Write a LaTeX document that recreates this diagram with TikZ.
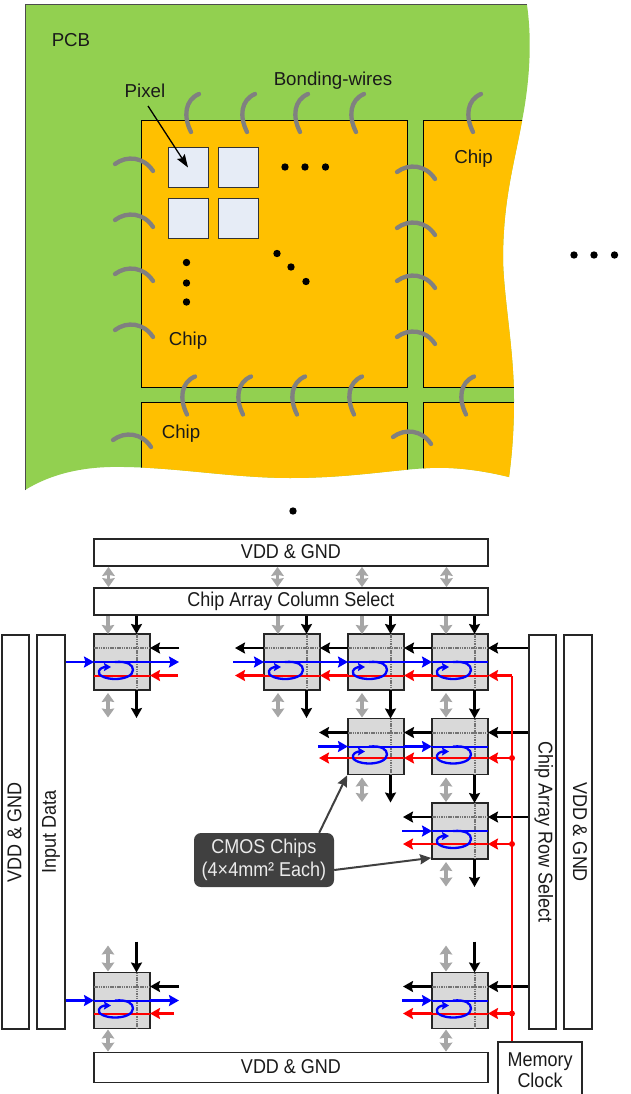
\documentclass[tikz,border=0pt]{standalone}
\usepackage{fontspec}
\setmainfont{Liberation Sans}
\newfontfamily\condfont[FakeStretch=0.9]{Liberation Sans}
\usetikzlibrary{arrows.meta}
\definecolor{pcbgreen}{HTML}{92D050}
\definecolor{chiporange}{HTML}{FFC000}
\definecolor{pixelblue}{HTML}{E6ECF6}
\definecolor{wiregrey}{HTML}{808080}
\definecolor{cellgrey}{HTML}{D9D9D9}
\definecolor{dblgrey}{HTML}{A6A6A6}
\definecolor{calloutdark}{HTML}{404040}
\definecolor{txt}{HTML}{1A1A1A}
\tikzset{
  lbl/.style={font=\fontsize{18.7}{22}\selectfont,text=txt,inner sep=0pt},
  pixelbox/.style={draw=black!80,line width=1pt,fill=pixelblue,minimum size=40pt,inner sep=0pt},
  wire/.style={draw=wiregrey,line width=4.3pt,line cap=round},
  dotmark/.style={circle,fill=black,minimum size=7.4pt,inner sep=0pt},
  bar/.style={draw=black!85,line width=1.8pt,fill=white,inner sep=0pt,font=\condfont\fontsize{20}{22}\selectfont,text=txt,align=center},
  cell/.style={draw=black!85,line width=1.8pt,fill=cellgrey,minimum size=56pt,inner sep=0pt},
  blk/.style={draw=black,line width=2.2pt,-{Stealth[length=10pt,width=11pt,inset=1.5pt]}},
  blu/.style={draw=blue,line width=2.2pt,-{Stealth[length=10pt,width=11pt,inset=1.5pt]}},
  rd/.style={draw=red,line width=2.2pt,-{Stealth[length=10pt,width=11pt,inset=1.5pt]}},
  dbl/.style={draw=dblgrey,line width=3.5pt,{Stealth[length=9pt,width=12.5pt,inset=1pt]}-{Stealth[length=9pt,width=12.5pt,inset=1pt]}},
  sgl/.style={draw=dblgrey,line width=3.5pt,-{Stealth[length=9pt,width=12.5pt,inset=1pt]}},
  inner/.style={draw=black!55,line width=2pt,dash pattern=on 1.5pt off 0.8pt},
  innerb/.style={draw=blue,line width=2pt},
  innerr/.style={draw=red,line width=2pt},
  junction/.style={circle,fill=red,minimum size=6pt,inner sep=0pt},
  callarrow/.style={draw=calloutdark,line width=2pt,-{Stealth[length=11pt,width=10pt,inset=1pt]}}
}
% name, x, y, red offset
\newcommand{\cellunit}[4]{%
  \node[cell] (#1) at (#2+28,#3+28) {};
  \coordinate (#1-kl) at (#2,#3+14);
  \coordinate (#1-kr) at (#2+56,#3+14);
  \coordinate (#1-bl) at (#2,#3+28);
  \coordinate (#1-br) at (#2+56,#3+28);
  \coordinate (#1-rl) at (#2,#3+#4);
  \coordinate (#1-rr) at (#2+56,#3+#4);
  \coordinate (#1-vt) at (#2+42.5,#3);
  \coordinate (#1-vb) at (#2+42.5,#3+56);
  \coordinate (#1-gt) at (#2+14,#3);
  \coordinate (#1-gb) at (#2+14,#3+56);
  \draw[inner] (#1-kl) -- (#1-kr);
  \draw[inner] (#1-vt) -- (#1-vb);
  \draw[innerb] (#1-bl) -- (#1-br);
  \draw[innerr] (#1-rl) -- (#1-rr);
  \draw[draw=blue,line width=2.3pt,-{Stealth[length=7pt,width=8pt,inset=1pt]}]
    (#2+21,#3+28) .. controls (#2+34,#3+27) and (#2+39,#3+31) .. (#2+39,#3+36)
    .. controls (#2+39,#3+42) and (#2+30,#3+45) .. (#2+21,#3+45)
    .. controls (#2+11,#3+45) and (#2+3,#3+41) .. (#2+5,#3+37)
    .. controls (#2+6,#3+34) and (#2+10,#3+33) .. (#2+17,#3+33);
}
\newcommand{\wireV}[2]{\draw[wire] (#1,#2) .. controls (#1-14,#2+6) and (#1-16,#2+22) .. (#1-8,#2+38);}
\newcommand{\wireH}[2]{\draw[wire] (#1,#2) .. controls (#1+12,#2-9) and (#1+29,#2-7) .. (#1+38,#2+7);}
\begin{document}
\begin{tikzpicture}[x=1pt,y=-1pt]
\useasboundingbox (0,0) rectangle (630,1094);
\clip (0,0) rectangle (630,1094);
% PCB
\def\pcbpath{(25,5) -- (527,5) .. controls (532,40) and (530,80) .. (522,121)
  .. controls (514,165) and (503,200) .. (503,260)
  .. controls (504,300) and (514,350) .. (514,400)
  .. controls (514,430) and (512,455) .. (509,477)
  .. controls (480,470) and (455,467) .. (430,468)
  .. controls (390,470) and (350,478) .. (290,478)
  .. controls (230,478) and (170,466) .. (110,467)
  .. controls (75,468) and (48,476) .. (25,490) -- cycle}
\fill[pcbgreen] \pcbpath;
\draw[black!70,line width=1pt] (25,490) -- (25,5) -- (527,5);
\begin{scope}
  \clip \pcbpath;
  \draw[black,line width=1pt,fill=chiporange] (141.5,121) rectangle (407,387);
  \draw[black,line width=1pt,fill=chiporange] (423.5,121) rectangle (560,387);
  \draw[black,line width=1pt,fill=chiporange] (141.5,402.5) rectangle (407,500);
  \draw[black,line width=1pt,fill=chiporange] (423.5,402.5) rectangle (560,500);
\end{scope}
\node[pixelbox] (p1) at (188,167.5) {};
\node[pixelbox] (p2) at (238,167.5) {};
\node[pixelbox] (p3) at (188,218) {};
\node[pixelbox] (p4) at (238,218) {};
\foreach \a in {199,255,308,364,481} {\wireV{\a}{94}}
\foreach \a in {195,251,305,362,474} {\wireV{\a}{376.5}}
\foreach \b in {164,220,274,330} {\wireH{115}{\b}}
\wireH{113}{440}
\foreach \b in {172,228,281,337} {\wireH{397}{\b}}
\wireH{393}{437}
\node[lbl] (pcb) at (71,40) {PCB};
\node[lbl] (pixellbl) at (145,91) {Pixel};
\node[lbl] (bondlbl) at (333,80.5) {Bonding-wires};
\node[lbl] (chipa) at (473.5,159) {Chip};
\node[lbl] (chipb) at (188,341) {Chip};
\node[lbl] (chipc) at (181,434) {Chip};
\coordinate (pixstart) at (148,106);
\draw[draw=black,line width=1.3pt,-{Stealth[length=13pt,width=9pt,inset=2pt]}] (pixstart) -- (p1.center);
\foreach \n/\x/\y in {d1/285/167,d2/305/167,d3/325.5/167,d4/186.5/262.5,d5/186.5/283,d6/186.5/302,d7/277/253.5,d8/291/267,d9/306/281.5,d10/574/255,d11/594/255,d12/614.5/255,d13/293/511}
  \node[dotmark] (\n) at (\x,\y) {};
% Bars
\node[bar,minimum width=394pt,minimum height=27pt] (vddtop) at (291,552.5) {\raisebox{1.5pt}{VDD \& GND}};
\node[bar,minimum width=394pt,minimum height=27pt] (colsel) at (291,601.5) {\raisebox{1pt}{Chip Array Column Select}};
\node[bar,minimum width=394pt,minimum height=30pt] (vddbot) at (291,1067.5) {\raisebox{1pt}{VDD \& GND}};
\node[bar,minimum width=27pt,minimum height=394pt] (vddleft) at (15.5,832) {\hspace*{-1.5pt}\rotatebox{90}{VDD \& GND}\hspace*{0.5pt}};
\node[bar,minimum width=28pt,minimum height=394pt] (inputdata) at (51,832) {\rotatebox{90}{Input Data}};
\node[bar,minimum width=27pt,minimum height=394pt] (rowsel) at (542.5,832) {\hspace*{2.5pt}\rotatebox{-90}{Chip Array Row Select}};
\node[bar,minimum width=28pt,minimum height=394pt] (vddright) at (578,832) {\hspace*{4pt}\rotatebox{-90}{VDD \& GND}};
\node[bar,minimum width=84pt,minimum height=58pt] (mem) at (540,1071) {\raisebox{2pt}{Memory}\\[-1pt]\raisebox{1.5pt}{Clock}};
% Chips
\cellunit{ca}{94}{634}{41.5}
\cellunit{cb}{264}{634}{41.5}
\cellunit{cc}{348}{634}{41.5}
\cellunit{cd}{432}{634}{41.5}
\cellunit{ce}{348}{718.5}{39.5}
\cellunit{cf}{432}{718.5}{39.5}
\cellunit{cg}{432}{803}{41}
\cellunit{ch}{94}{972.5}{41}
\cellunit{ci}{432}{972.5}{41}
% supply arrows between bars
\foreach \x in {108.5,277.5,362,446.5} {
  \coordinate (sup) at (\x,570);
  \draw[dbl] (vddtop.south -| sup) -- (colsel.north -| sup);
}
% Column-select arrows
\foreach \c in {ca,cb,cc,cd} {
  \draw[blk] (colsel.south -| \c-vt) -- (\c-vt);
  \draw[sgl] (colsel.south -| \c-gt) -- (\c-gt);
}
% Vertical black links
\draw[blk] (ca-vb) -- ++(0,28);
\draw[blk] (cb-vb) -- ++(0,28);
\draw[blk] (cc-vb) -- (ce-vt);
\draw[blk] (cd-vb) -- (cf-vt);
\draw[blk] (ce-vb) -- ++(0,28);
\draw[blk] (cf-vb) -- (cg-vt);
\draw[blk] (cg-vb) -- ++(0,28);
\draw[blk] ([yshift=31pt]ch-vt) -- (ch-vt);
\draw[blk] ([yshift=31pt]ci-vt) -- (ci-vt);
% Grey double arrows
\foreach \c in {ca,cb,cc,cd,ce,cf,cg}
  \draw[dbl] ([yshift=-3pt]\c-gb) -- ++(0,24.5);
\foreach \c in {ch,ci} {
  \draw[dbl] ([yshift=1pt]\c-gt) -- ++(0,-26);
  \draw[dbl] ([yshift=-1pt]\c-gb) -- (vddbot.north -| \c-gb);
}
% Row-select (black) arrows
\draw[blk] (rowsel.west |- cd-kr) -- (cd-kr);
\draw[blk] (rowsel.west |- cf-kr) -- (cf-kr);
\draw[blk] (rowsel.west |- cg-kr) -- (cg-kr);
\draw[blk] (rowsel.west |- ci-kr) -- (ci-kr);
\draw[blk] (cd-kl) -- (cc-kr);
\draw[blk] (cc-kl) -- (cb-kr);
\draw[blk] (cf-kl) -- (ce-kr);
\draw[blk] (cb-kl) -- ++(-29,0);
\draw[blk] (ce-kl) -- ++(-29,0);
\draw[blk] (cg-kl) -- ++(-29,0);
\draw[blk] (ci-kl) -- ++(-29,0);
\draw[blk] ([xshift=29pt]ca-kr) -- (ca-kr);
\draw[blk] ([xshift=29pt]ch-kr) -- (ch-kr);
% Data (blue) arrows
\draw[blu] (inputdata.east |- ca-bl) -- (ca-bl);
\draw[blu] (inputdata.east |- ch-bl) -- (ch-bl);
\draw[blu] (ca-br) -- ++(29,0);
\draw[blu] (ch-br) -- ++(29,0);
\draw[blu] ([xshift=-31pt]cb-bl) -- (cb-bl);
\draw[blu] (cb-br) -- (cc-bl);
\draw[blu] (cc-br) -- (cd-bl);
\draw[blu] ([xshift=-30pt]ce-bl) -- (ce-bl);
\draw[blu] (ce-br) -- (cf-bl);
\draw[blu] ([xshift=-30pt]cg-bl) -- (cg-bl);
\draw[blu] ([xshift=-30pt]ci-bl) -- (ci-bl);
% Clock (red) arrows
\coordinate (rj0) at (512,675.5);
\coordinate (rj1) at (cf-rr -| rj0);
\coordinate (rj2) at (cg-rr -| rj0);
\coordinate (rj3) at (ci-rr -| rj0);
\draw[draw=red,line width=2.2pt] (mem.north -| rj0) -- (rj0);
\draw[rd] (rj0) -- (cd-rr);
\draw[rd] (rj1) -- (cf-rr);
\draw[rd] (rj2) -- (cg-rr);
\draw[rd] (rj3) -- (ci-rr);
\node[junction] (j1) at (rj1) {};
\node[junction] (j2) at (rj2) {};
\node[junction] (j3) at (rj3) {};
\draw[rd] (cd-rl) -- (cc-rr);
\draw[rd] (cc-rl) -- (cb-rr);
\draw[rd] (cf-rl) -- (ce-rr);
\draw[rd] (cb-rl) -- ++(-29,0);
\draw[rd] (ce-rl) -- ++(-29,0);
\draw[rd] (cg-rl) -- ++(-29,0);
\draw[rd] (ci-rl) -- ++(-29,0);
\draw[rd] ([xshift=28pt]ca-rr) -- (ca-rr);
\draw[rd] ([xshift=24pt]ch-rr) -- (ch-rr);
% Callout
\node[draw=none,fill=calloutdark,rounded corners=7pt,minimum width=140pt,minimum height=54pt,inner sep=0pt,
  font=\condfont\fontsize{20}{23}\selectfont,text=white!92!black,align=center] (callout) at (264,860) {CMOS Chips\\(4×4mm² Each)};
\draw[callarrow] ([xshift=-15pt]callout.north east) -- (ce.south west);
\draw[callarrow] ([yshift=-10pt]callout.east) -- ([yshift=2pt]cg.south west);
\end{tikzpicture}
\end{document}
